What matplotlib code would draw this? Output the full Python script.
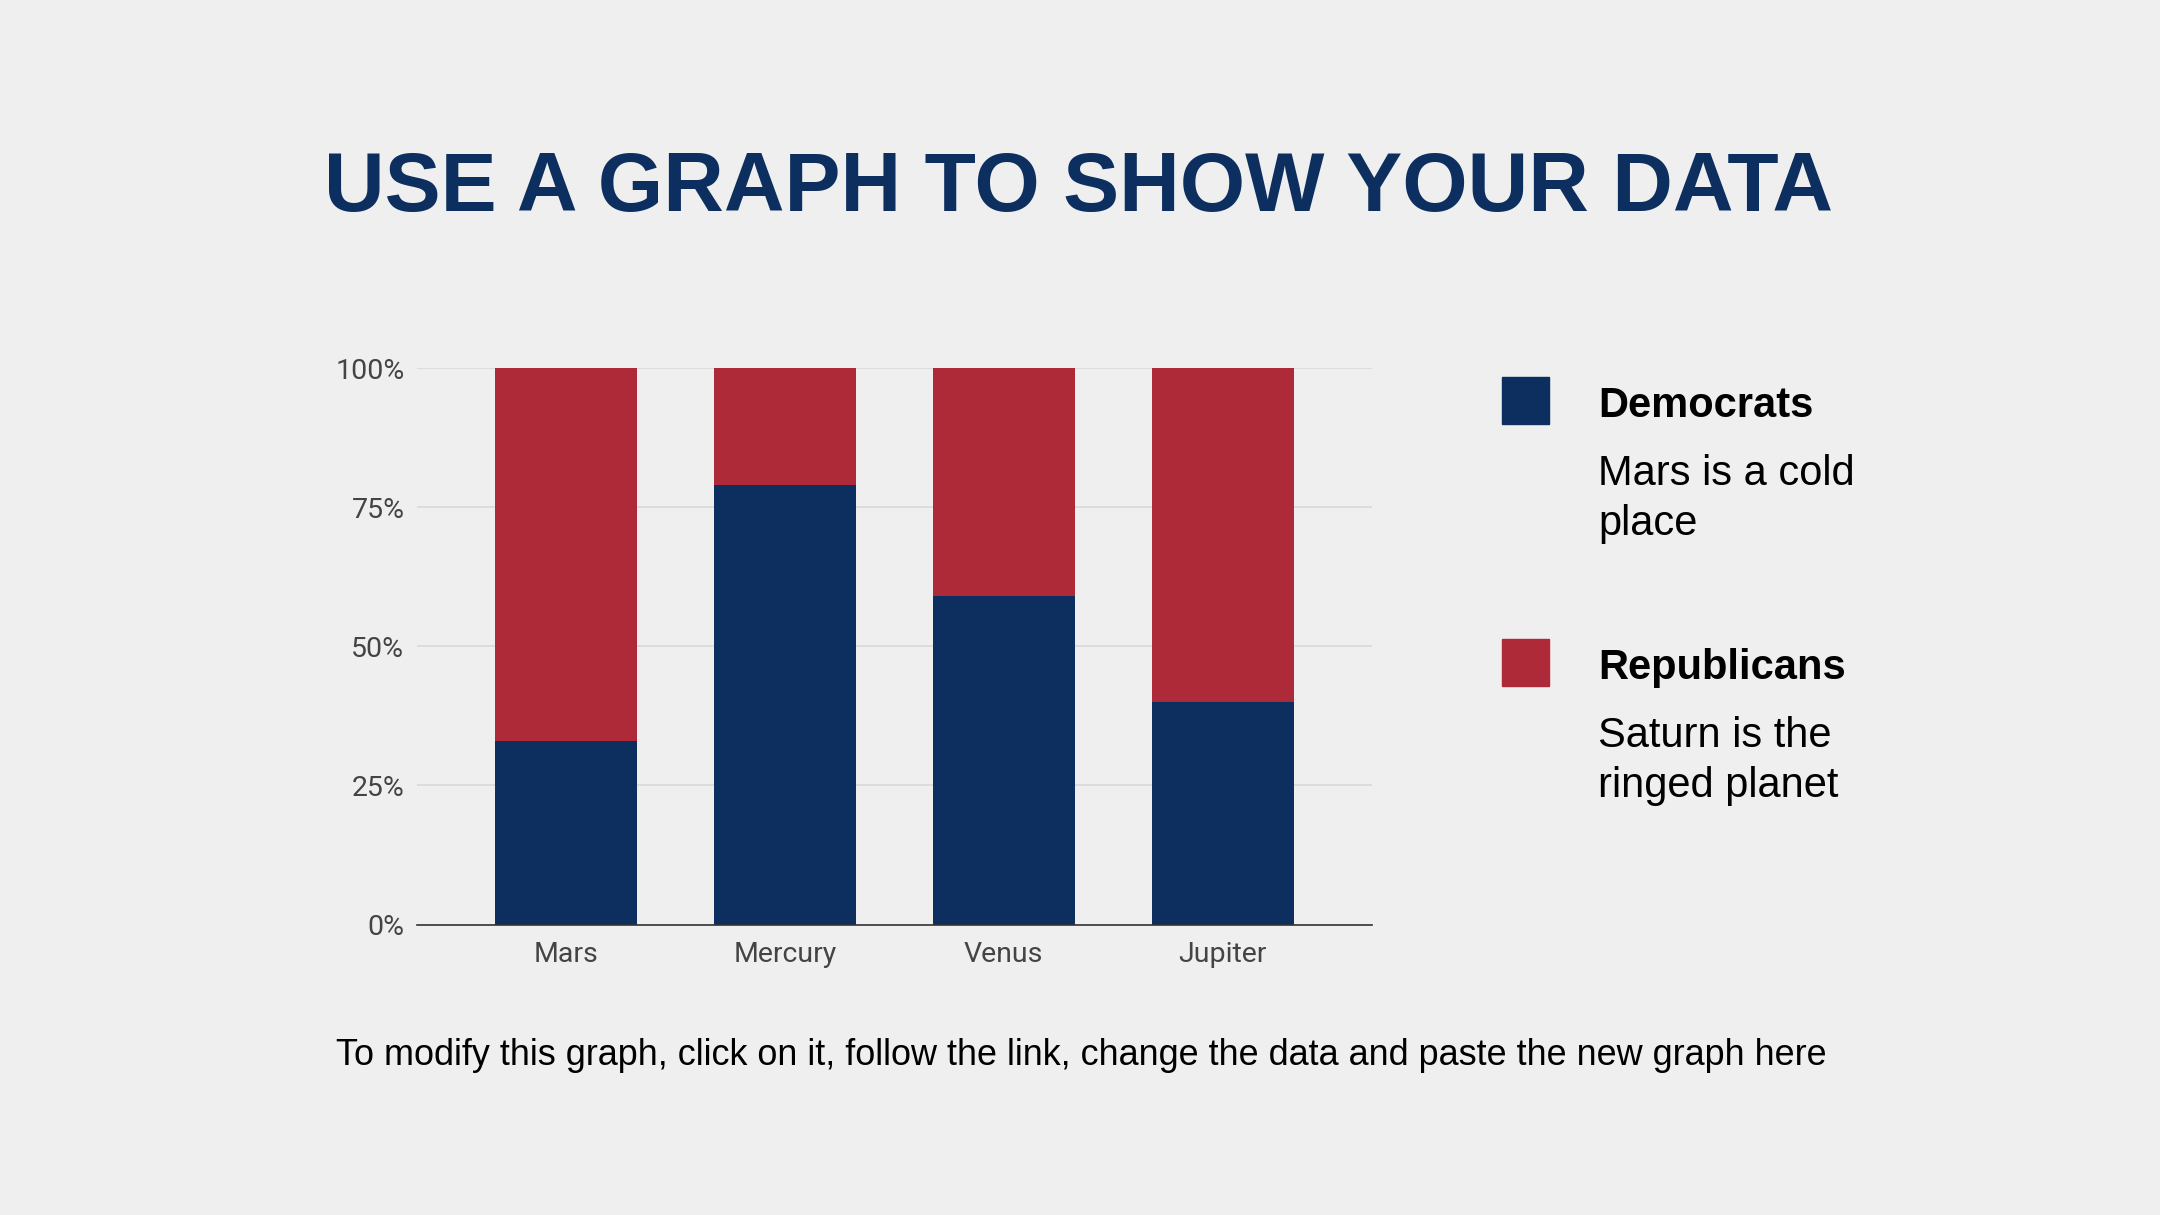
import matplotlib
matplotlib.use("Agg")
import matplotlib.pyplot as plt
import numpy as np

# chart data
planets = ["Mars", "Mercury", "Venus", "Jupiter"]
democrats = [33, 79, 59, 40]
republicans = [67, 21, 41, 60]
y_ticks = [0, 25, 50, 75, 100]

navy = "#0c2f5f"
red = "#ae2a38"
bg = "#efefef"

fig = plt.figure(figsize=(21.6, 12.15), dpi=100, facecolor=bg)
ax = fig.add_axes([0.193, 0.239, 0.442, 0.458], facecolor=bg)

pos = np.arange(len(planets))
ax.bar(pos, democrats, width=0.65, color=navy, zorder=3)
ax.bar(pos, republicans, width=0.65, bottom=democrats, color=red, zorder=3)

ax.set_xlim(-0.68, 3.68)
ax.set_ylim(0, 100)
ax.set_yticks(y_ticks)
ax.set_yticklabels([f"{t}%" for t in y_ticks])
ax.set_xticks(pos)
ax.set_xticklabels(planets)
ax.grid(axis="y", color="#d9d9d9", linewidth=1.2, zorder=0)
for s in ["top", "right", "left"]:
    ax.spines[s].set_visible(False)
ax.spines["bottom"].set_color("#333333")
ax.spines["bottom"].set_linewidth(1.2)
ax.spines["bottom"].set_zorder(4)
ax.tick_params(length=0, labelsize=20.5, labelcolor="#444444")
ax.tick_params(axis="x", pad=12)
ax.tick_params(axis="y", pad=9)
for lab in ax.get_xticklabels() + ax.get_yticklabels():
    lab.set_family("Roboto")

W, H = 2160, 1215
def fx(px):
    return px / W
def fy(py):
    return 1 - py / H

fig.text(fx(1078), fy(211), "USE A GRAPH TO SHOW YOUR DATA", ha="center", va="baseline",
         fontsize=60.5, fontweight="bold", color=navy, family="Liberation Sans")

# legend on the right
legend_items = [
    (navy, "Democrats", "Mars is a cold\nplace", 377, 417, 485),
    (red, "Republicans", "Saturn is the\nringed planet", 639, 679, 747),
]
for col, name, desc, sq_top, name_base, desc_base in legend_items:
    fig.patches.append(plt.Rectangle((fx(1502), fy(sq_top + 47)), 47 / W, 47 / H,
                                     transform=fig.transFigure, color=col))
    fig.text(fx(1598), fy(name_base), name, ha="left", va="baseline", fontsize=30,
             fontweight="bold", color="black", family="Liberation Sans")
    line1, line2 = desc.split("\n")
    fig.text(fx(1598), fy(desc_base), line1, ha="left", va="baseline",
             fontsize=30, color="black", family="Liberation Sans")
    fig.text(fx(1598), fy(desc_base + 50), line2, ha="left", va="baseline",
             fontsize=30, color="black", family="Liberation Sans")

fig.text(fx(1081), fy(1065), "To modify this graph, click on it, follow the link, change the data and paste the new graph here",
         ha="center", va="baseline", fontsize=25.9, color="black", family="Liberation Sans")

fig.savefig("out.png", dpi=100, facecolor=bg)
